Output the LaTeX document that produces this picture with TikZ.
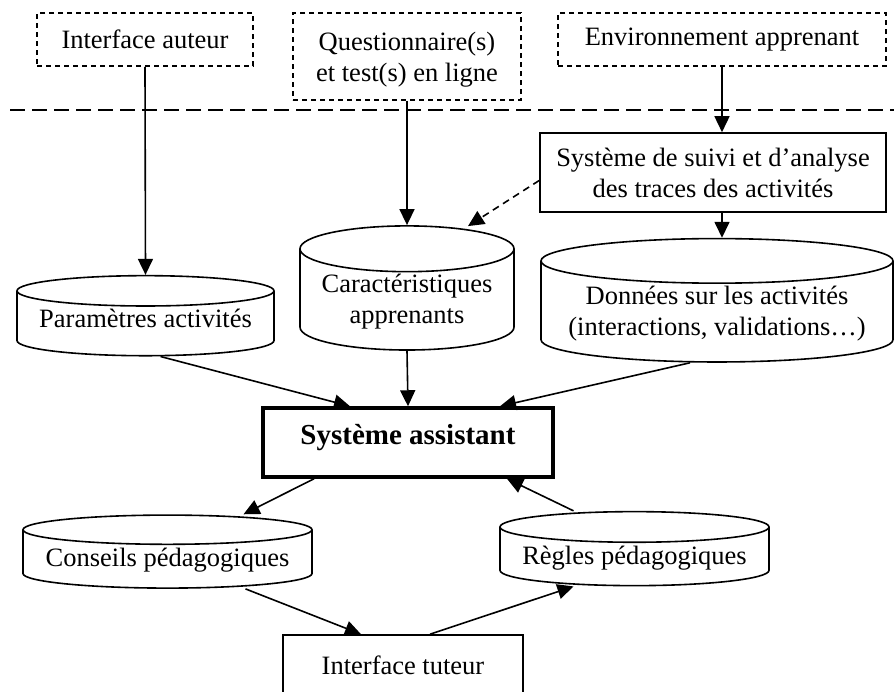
\documentclass[tikz,border=0pt]{standalone}
\usepackage{fontspec}
\setmainfont{Liberation Serif}
\usepackage{tikz}
\usetikzlibrary{shapes.geometric, arrows.meta, positioning}
\tikzset{
  ext/.style={rectangle, draw, line width=1.5pt, dash pattern=on 5pt off 4pt, align=center, inner sep=2pt},
  proc/.style={rectangle, draw, line width=1.6pt, align=center, inner sep=2pt},
  core/.style={rectangle, draw, line width=3.5pt, align=center, inner sep=2pt, text height=20pt, text depth=17pt, font=\fontsize{29}{32}\selectfont\bfseries},
  db/.style={cylinder, shape border rotate=90, draw, line width=1.6pt, align=center, inner sep=2pt},
  arr/.style={-{Triangle[length=16pt, width=15pt]}, line width=1.6pt},
}
\begin{document}
\begin{tikzpicture}[x=1pt, y=-1pt, font=\fontsize{26.5}{31}\selectfont]
\clip (0,0) rectangle (894,691);
% sources externes
\node[ext, minimum width=216pt, minimum height=53pt] (auteur) at (145,39.5) {Interface auteur};
\node[ext, minimum width=228pt, minimum height=87pt, text depth=0pt] (quest) at (407,56.5) {Questionnaire(s)\\et test(s) en ligne};
\node[ext, minimum width=328pt, minimum height=53pt] (envir) at (722,39.5) {Environnement apprenant};
\draw[line width=2pt, dash pattern=on 15pt off 7pt] (10,110) -- (894,110);
% bases et suivi
\node[proc, minimum width=346pt, minimum height=79pt, text depth=-4pt] (suivi) at (713,172.5) {Système de suivi et d’analyse\\des traces des activités};
\node[db, minimum width=257pt, minimum height=72pt, aspect=0.14, text depth=14pt] (param) at (145.5,325) {Paramètres activités};
\node[db, minimum width=214pt, minimum height=124pt, aspect=0.262] (carac) at (407,302) {Caractéristiques\\apprenants};
\node[db, minimum width=352pt, minimum height=111pt, aspect=0.148] (donnees) at (717,313.5) {Données sur les activités\\(interactions, validations…)};
\node[core, minimum width=290pt, minimum height=69pt] (assist) at (408,442.5) {Système assistant};
\node[db, minimum width=289pt, minimum height=73pt, aspect=0.118] (conseils) at (167.5,560.5) {Conseils pédagogiques};
\node[db, minimum width=269pt, minimum height=74pt, aspect=0.134] (regles) at (634.5,558) {Règles pédagogiques};
\node[proc, minimum width=240pt, minimum height=60pt] (tuteur) at (403,665) {Interface tuteur};
% liaisons
\draw[arr] (auteur.south) -- (param.north);
\draw[arr] (quest.south) -- (carac.north);
\draw[arr] (envir.south) -- (suivi.north -| envir.south);
\draw[arr] (suivi.south -| envir.south) -- (donnees.north -| envir.south);
\draw[arr, dash pattern=on 7pt off 5pt] ([yshift=-8pt]suivi.west) -- ([xshift=61pt, yshift=-1pt]carac.north);
\draw[arr] ([xshift=15pt]param.south) -- ([xshift=-58pt]assist.north);
\draw[arr] (carac.south) -- (assist.north);
\draw[arr] ([xshift=-27pt]donnees.south) -- ([xshift=92pt]assist.north);
\draw[arr] ([xshift=-94pt]assist.south) -- ([xshift=76pt]conseils.north);
\draw[arr] ([xshift=-61pt]regles.north) -- ([xshift=99pt]assist.south);
\draw[arr] ([xshift=78pt]conseils.south) -- ([xshift=-42pt]tuteur.north);
\draw[arr] ([xshift=27pt]tuteur.north) -- ([xshift=-61pt]regles.south);
\end{tikzpicture}
\end{document}
